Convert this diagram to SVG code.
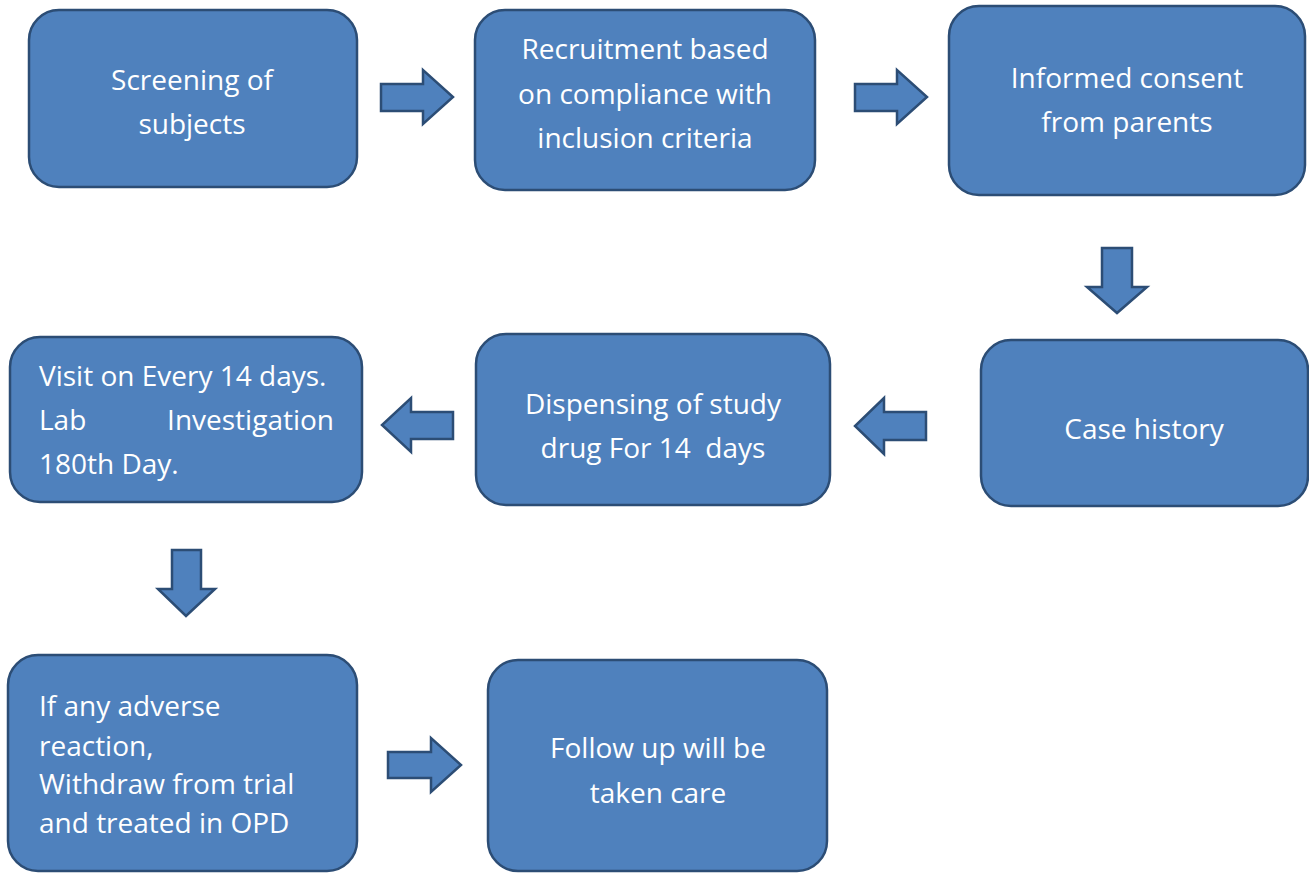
<svg xmlns="http://www.w3.org/2000/svg" width="1309" height="873" viewBox="0 0 1309 873">
<style>
.box{fill:#4F81BD;stroke:#2C4D75;stroke-width:2.5}
.arr{fill:#4F81BD;stroke:#2C4D75;stroke-width:2.5;stroke-linejoin:miter}
text{font-family:"Open Sans","Noto Sans",sans-serif;font-size:28px;fill:#FFFFFF}
.c{text-anchor:middle}
</style>
<rect width="1309" height="873" fill="#FFFFFF"/>
<g id="connectors">
<polygon class="arr" points="381,84 423,84 423,70 453,97 423,124 423,111 381,111"/>
<polygon class="arr" points="855,84 897,84 897,70 927,97 897,124 897,111 855,111"/>
<polygon class="arr" points="1102,248 1132,248 1132,287 1147,287 1117,313 1087,287 1102,287"/>
<polygon class="arr" points="926,412 884,412 884,398 855,426 884,454 884,440 926,440"/>
<polygon class="arr" points="453,412 411,412 411,398 382,425 411,452 411,439 453,439"/>
<polygon class="arr" points="172,550 201,550 201,589 215,589 186,616 158,589 172,589"/>
<polygon class="arr" points="388,752 431,752 431,738 461,765 431,792 431,778 388,778"/>
</g>
<g id="n1"><rect class="box" x="29" y="10" width="328" height="177" rx="30"/>
<text class="c" x="192" y="90">Screening of</text><text class="c" x="192" y="134">subjects</text></g>
<g id="n2"><rect class="box" x="475" y="10" width="340" height="180" rx="30"/>
<text class="c" x="645" y="59">Recruitment based</text><text class="c" x="645" y="104">on compliance with</text><text class="c" x="645" y="148">inclusion criteria</text></g>
<g id="n3"><rect class="box" x="949" y="6" width="356" height="189" rx="30"/>
<text class="c" x="1127" y="88">Informed consent</text><text class="c" x="1127" y="132">from parents</text></g>
<g id="n4"><rect class="box" x="981" y="340" width="327" height="166" rx="30"/>
<text class="c" x="1144" y="439">Case history</text></g>
<g id="n5"><rect class="box" x="476" y="334" width="354" height="171" rx="30"/>
<text class="c" x="653" y="414">Dispensing of study</text><text class="c" x="653" y="458" xml:space="preserve">drug For 14  days</text></g>
<g id="n6"><rect class="box" x="10" y="337" width="352" height="165" rx="30"/>
<text x="39" y="386">Visit on Every 14 days.</text><text x="39" y="430">Lab</text><text x="334" y="430" text-anchor="end">Investigation</text><text x="39" y="474">180th Day.</text></g>
<g id="n7"><rect class="box" x="8" y="655" width="349" height="216" rx="30"/>
<text x="39" y="716">If any adverse</text><text x="39" y="756">reaction,</text><text x="39" y="794">Withdraw from trial</text><text x="39" y="833">and treated in OPD</text></g>
<g id="n8"><rect class="box" x="488" y="660" width="339" height="211" rx="30"/>
<text class="c" x="658" y="758">Follow up will be</text><text class="c" x="658" y="803">taken care</text></g>
</svg>
